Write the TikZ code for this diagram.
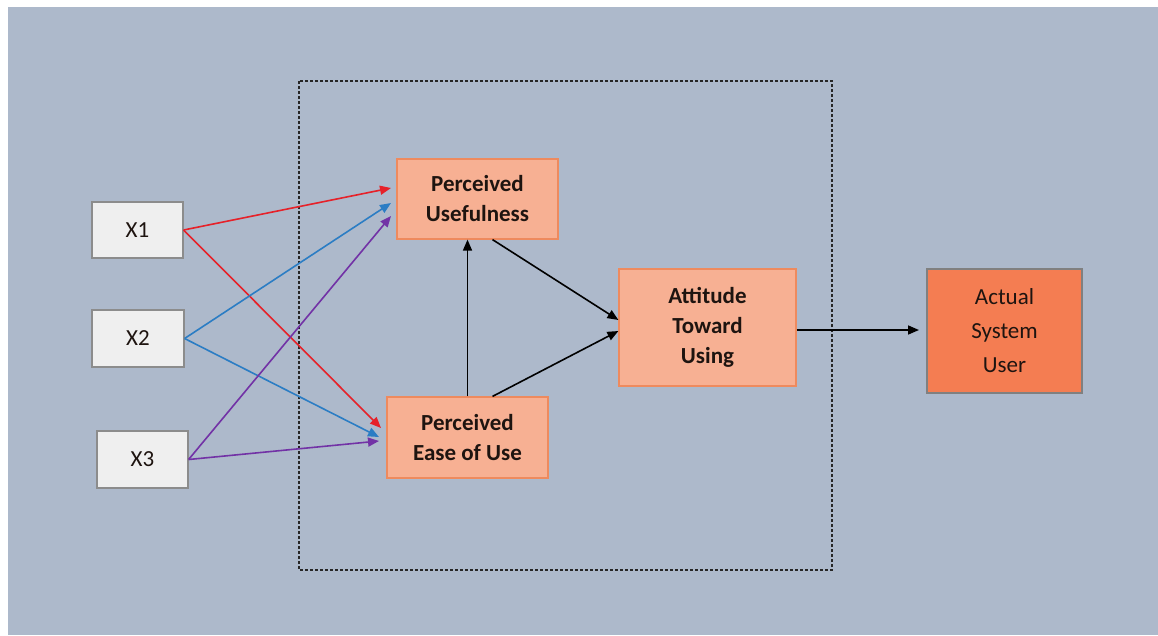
\documentclass[tikz,border=0pt]{standalone}
\usepackage{fontspec}
\setmainfont{Carlito}
\usetikzlibrary{arrows.meta}
\definecolor{bgc}{HTML}{ADB9CB}
\definecolor{xfill}{HTML}{EFEFEF}
\definecolor{xdraw}{HTML}{8C8C8C}
\definecolor{sfill}{HTML}{F7B093}
\definecolor{sdraw}{HTML}{EE8A5E}
\definecolor{afill}{HTML}{F47D52}
\definecolor{adraw}{HTML}{808080}
\definecolor{cred}{HTML}{E62129}
\definecolor{cblue}{HTML}{2B7DC4}
\definecolor{cpurp}{HTML}{7232A6}
\definecolor{txt}{HTML}{1E1410}
\tikzset{
  xbox/.style={draw=xdraw, fill=xfill, line width=1.2pt, inner sep=0pt, text=txt, font=\fontsize{23}{28}\selectfont},
  sbox/.style={draw=sdraw, fill=sfill, line width=1.2pt, inner sep=0pt, align=center, text=txt, font=\fontsize{23}{30}\selectfont\bfseries},
  abox/.style={draw=adraw, fill=afill, line width=1.2pt, inner sep=0pt, align=center, text=txt, font=\fontsize{23}{34}\selectfont},
  arr/.style={line width=1.6pt, -{Triangle[length=11pt,width=9pt]}},
}
\begin{document}
\begin{tikzpicture}[x=1pt,y=-1pt]
\useasboundingbox (0,0) rectangle (1158,635);
\fill[white] (0,0) rectangle (1158,635);
\fill[bgc] (8,7) rectangle (1158,635);
\draw[line width=1.4pt, dash pattern=on 3pt off 2pt, color=black!85] (299,81) rectangle (832,570);

\node[xbox, minimum width=91pt, minimum height=56pt] (x1) at (137.5,230) {X1};
\node[xbox, minimum width=92pt, minimum height=57pt] (x2) at (138,338.5) {X2};
\node[xbox, minimum width=91pt, minimum height=57pt] (x3) at (142.5,459.5) {X3};

\node[sbox, minimum width=161pt, minimum height=80pt] (pu) at (477.5,199) {Perceived\\Usefulness};
\node[sbox, minimum width=161pt, minimum height=81pt] (peu) at (467.5,437.5) {Perceived\\Ease of Use};
\node[sbox, minimum width=177pt, minimum height=117pt] (atu) at (707.5,327.5) {Attitude\\Toward\\Using};
\node[abox, minimum width=155pt, minimum height=124pt] (asu) at (1004.5,331) {Actual\\System\\User};

\coordinate (pu1) at (391,188);
\coordinate (pu2) at (391,203);
\coordinate (pu3) at (391,216);
\coordinate (peu1) at (381,428);
\coordinate (peu2) at (379,437);
\coordinate (peu3) at (379,441);

\draw[arr, cred] (x1.east) -- (pu1);
\draw[arr, cred] (x1.east) -- (peu1);
\draw[arr, cblue] (x2.east) -- (pu2);
\draw[arr, cblue] (x2.east) -- (peu2);
\draw[arr, cpurp] (x3.east) -- (pu3);
\draw[arr, cpurp] (x3.east) -- (peu3);

\draw[arr, black] (peu.north) -- (peu.north |- pu.south);
\coordinate (pus) at ([xshift=15pt]pu.south);
\coordinate (atu1) at (atu.west |- 0,320);
\draw[arr, black] (pus) -- (atu1);
\coordinate (peun) at ([xshift=25pt]peu.north);
\coordinate (atu2) at (atu.west |- 0,331);
\draw[arr, black] (peun) -- (atu2);
\coordinate (atue) at (atu.east |- 0,330);
\coordinate (asuw) at (919,330);
\draw[arr, black] (atue) -- (asuw);
\end{tikzpicture}
\end{document}
